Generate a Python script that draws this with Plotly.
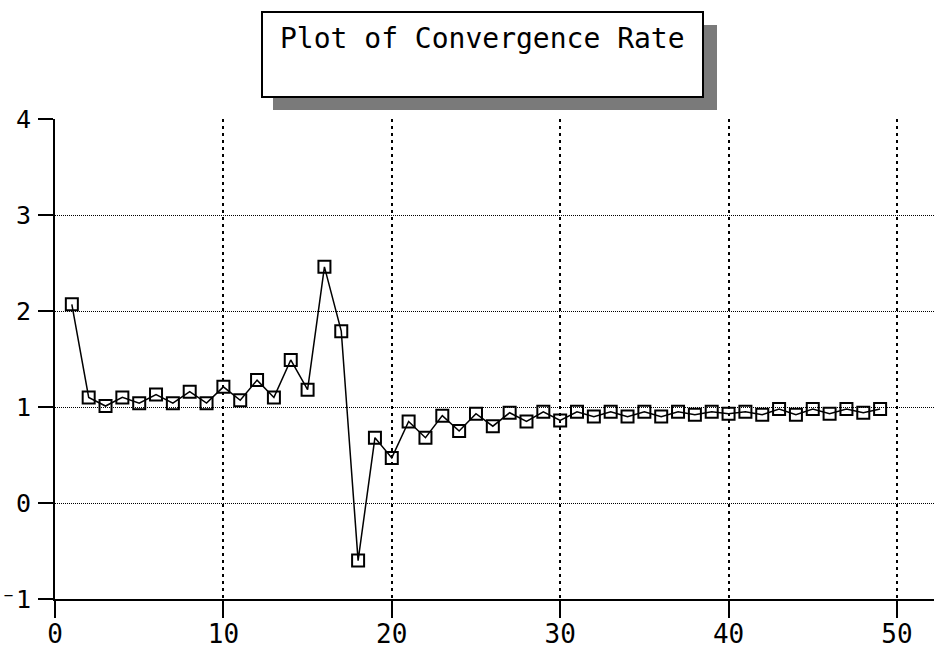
import plotly.graph_objects as go

iterations = list(range(1, 50))
rate = [2.07, 1.10, 1.01, 1.10, 1.04, 1.13, 1.04, 1.16, 1.04, 1.21,
        1.07, 1.28, 1.10, 1.49, 1.18, 2.46, 1.79, -0.60, 0.68, 0.47,
        0.85, 0.68, 0.91, 0.75, 0.93, 0.80, 0.94, 0.85, 0.95, 0.86,
        0.95, 0.90, 0.95, 0.90, 0.95, 0.90, 0.95, 0.92, 0.95, 0.93,
        0.95, 0.92, 0.98, 0.92, 0.98, 0.93, 0.98, 0.94, 0.98]

x_ticks = [0, 10, 20, 30, 40, 50]
x_ticktext = ["0", "10", "20", "30", "40", "50"]
y_ticks = [-1, 0, 1, 2, 3, 4]
y_ticktext = ["⁻1", "0", "1", "2", "3", "4"]
title_text = "Plot of Convergence Rate"

W, H = 934, 652
L, R, T, B = 55, 0, 119, 53
pw, ph = W - L - R, H - T - B


def px_x(p):
    return (p - L) / pw


def px_y(p):
    return (H - B - p) / ph


fig = go.Figure()
fig.add_trace(go.Scatter(
    x=iterations, y=rate, mode="lines+markers",
    line=dict(color="black", width=1.5),
    marker=dict(symbol="square-open", size=12, color="black",
                line=dict(color="black", width=2)),
    showlegend=False, cliponaxis=False,
))

font = dict(family="DejaVu Sans Mono", size=26, color="black")
yfont = dict(family="DejaVu Sans Mono", size=25, color="black")

fig.update_layout(
    width=W, height=H,
    margin=dict(l=L, r=R, t=T, b=B, pad=0, autoexpand=False),
    paper_bgcolor="white", plot_bgcolor="white",
    font=font,
    xaxis=dict(range=[0, 52.2], tickvals=x_ticks, ticktext=x_ticktext,
               showgrid=True, gridcolor="black", gridwidth=2,
               griddash="3px,4px", automargin=False,
               showline=True, linecolor="black", linewidth=2,
               ticks="outside", ticklen=17, tickwidth=2, tickcolor="black",
               zeroline=False, tickfont=font, ticklabelstandoff=-6),
    yaxis=dict(range=[-1, 4], tickvals=y_ticks, ticktext=y_ticktext,
               showgrid=True, gridcolor="black", gridwidth=1,
               griddash="1px,1px", automargin=False,
               showline=True, linecolor="black", linewidth=2,
               ticks="outside", ticklen=15, tickwidth=2, tickcolor="black",
               zeroline=False, tickfont=yfont, ticklabelstandoff=2),
    shapes=[
        dict(type="rect", xref="paper", yref="paper",
             x0=px_x(273), x1=px_x(717), y0=px_y(110), y1=px_y(25),
             fillcolor="#7a7a7a", line=dict(width=0), layer="above"),
        dict(type="rect", xref="paper", yref="paper",
             x0=px_x(262), x1=px_x(703), y0=px_y(97), y1=px_y(12),
             fillcolor="white", line=dict(color="black", width=2),
             layer="above"),
    ],
    annotations=[
        dict(text=title_text, xref="paper", yref="paper",
             x=px_x(482), y=px_y(39), xanchor="center", yanchor="middle",
             showarrow=False, font=dict(family="DejaVu Sans Mono", size=28,
                                        color="black")),
    ],
)

fig.write_html("out.html",
               config={"displayModeBar": False},
               post_script="document.body.style.margin='0';"
                           "document.body.style.overflow='hidden';")
